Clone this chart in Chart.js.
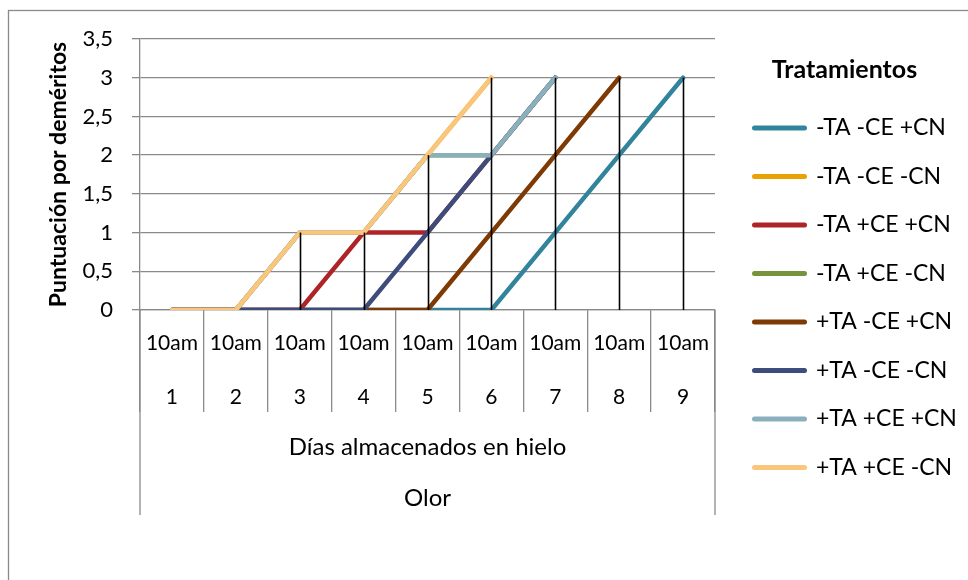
<!DOCTYPE html>
<html>
<head>
<meta charset="utf-8">
<script src="https://cdn.jsdelivr.net/npm/chart.js@4.4.1/dist/chart.umd.min.js"></script>
<style>
  html, body { margin: 0; padding: 0; background: #fff; }
  canvas { display: block; }
</style>
</head>
<body>
<canvas id="chart" width="968" height="580"></canvas>
<script>
// Category levels of the horizontal axis
const days = ['1', '2', '3', '4', '5', '6', '7', '8', '9'];
const times = ['10am', '10am', '10am', '10am', '10am', '10am', '10am', '10am', '10am'];
const axisTitleLines = ['Días almacenados en hielo', 'Olor'];

// Treatment names (legend order)
const treatments = ['-TA -CE +CN', '-TA -CE -CN', '-TA +CE +CN', '-TA +CE -CN',
                    '+TA -CE +CN', '+TA -CE -CN', '+TA +CE +CN', '+TA +CE -CN'];

// Demerit scores per day for each treatment (null once the lot is rejected)
const taCeCnA = [0, 0, 0, 0, 0, 0, 1, 2, 3];          // -TA -CE +CN
const taCeCnB = [0, 0, 1, 1, 2, 3, null, null, null]; // -TA -CE -CN
const taCeCnC = [0, 0, 0, 1, 1, 2, 3, null, null];    // -TA +CE +CN
const taCeCnD = [0, 0, 1, 1, 2, 2, 3, null, null];    // -TA +CE -CN
const taCeCnE = [0, 0, 0, 0, 0, 1, 2, 3, null];       // +TA -CE +CN
const taCeCnF = [0, 0, 0, 0, 1, 2, 3, null, null];    // +TA -CE -CN
const taCeCnG = [0, 0, 1, 1, 2, 2, 3, null, null];    // +TA +CE +CN
const taCeCnH = [0, 0, 1, 1, 2, 3, null, null, null]; // +TA +CE -CN
const seriesValues = [taCeCnA, taCeCnB, taCeCnC, taCeCnD, taCeCnE, taCeCnF, taCeCnG, taCeCnH];

// Value axis ticks
const yTicks = [0, 0.5, 1, 1.5, 2, 2.5, 3, 3.5];

const palette = ['#31849B', '#E8A202', '#AE2426', '#77933C',
                 '#7F3A04', '#3E4C7C', '#8AAFBD', '#FAC67E'];

const GRID = '#8a8a8a';
const FONT = 'Lato';

Chart.defaults.font.family = FONT;
Chart.defaults.color = '#000';

// Frame around the whole chart object, and a gap between plot and legend
const frame = {
  id: 'frame',
  beforeDraw(chart) {
    const ctx = chart.ctx;
    ctx.save();
    ctx.strokeStyle = GRID;
    ctx.lineWidth = 1.3;
    ctx.strokeRect(8.5, 10.5, 2000, 2000);
    ctx.restore();
  },
  afterLayout(chart) {
    const lg = chart.legend;
    if (lg) { lg.left += 14; lg.right += 14; }
  }
};

// Vertical drop lines from the highest value of each day down to zero
const dropLines = {
  id: 'dropLines',
  afterDatasetsDraw(chart) {
    const { ctx, scales: { x, y } } = chart;
    ctx.save();
    ctx.strokeStyle = '#000';
    ctx.lineWidth = 1.6;
    days.forEach((d, i) => {
      const vals = seriesValues.map(s => s[i]).filter(v => v !== null && v !== undefined);
      if (!vals.length) return;
      const top = Math.max(...vals);
      const px = Math.round(x.getPixelForValue(i)) + 0.5;
      ctx.beginPath();
      ctx.moveTo(px, y.getPixelForValue(top));
      ctx.lineTo(px, y.getPixelForValue(0));
      ctx.stroke();
    });
    ctx.restore();
  }
};

// Outer edges of the multi-level category axis run down past the title rows
const axisEdges = {
  id: 'axisEdges',
  afterDraw(chart) {
    const { ctx, scales: { x } } = chart;
    ctx.save();
    ctx.strokeStyle = GRID;
    ctx.lineWidth = 1.3;
    [x.left, x.right].forEach(px => {
      ctx.beginPath();
      ctx.moveTo(px, x.top);
      ctx.lineTo(px, x.top + 205);
      ctx.stroke();
    });
    ctx.restore();
  }
};

new Chart(document.getElementById('chart'), {
  type: 'line',
  data: {
    labels: days.map((d, i) => [times[i], d]),
    datasets: treatments.map((name, i) => ({
      label: name,
      data: seriesValues[i],
      order: treatments.length - i,   // later treatments are painted on top
      borderColor: palette[i],
      backgroundColor: palette[i],
      borderWidth: 4.5,
      borderCapStyle: 'round',
      borderJoinStyle: 'round',
      pointRadius: 0,
      pointHoverRadius: 0,
      tension: 0,
      spanGaps: false,
      fill: false
    }))
  },
  options: {
    responsive: false,
    animation: false,
    devicePixelRatio: 1,
    layout: { padding: { top: 39, left: 0, right: 22, bottom: 0 } },
    plugins: {
      tooltip: { enabled: false },
      legend: {
        position: 'right',
        align: 'start',
        maxWidth: 231,
        title: {
          display: true,
          text: 'Tratamientos',
          color: '#000',
          font: { family: FONT, size: 25, weight: 'bold' },
          padding: { top: 18.5, bottom: 3.5 }
        },
        labels: {
          usePointStyle: true,
          pointStyle: 'line',
          pointStyleWidth: 50,
          boxHeight: 23,
          padding: 25.5,
          color: '#000',
          font: { family: FONT, size: 23 },
          generateLabels(chart) {
            return chart.data.datasets.map((ds, i) => ({
              text: ds.label,
              fillStyle: ds.borderColor,
              strokeStyle: ds.borderColor,
              lineWidth: 5,
              lineCap: 'round',
              pointStyle: 'line',
              hidden: false,
              fontColor: '#000',
              datasetIndex: i
            }));
          }
        }
      }
    },
    scales: {
      x: {
        type: 'category',
        offset: true,
        afterFit(scale) { scale.height = 270; },
        grid: {
          offset: true,
          drawOnChartArea: false,
          drawTicks: true,
          tickLength: 102,
          color: GRID,
          tickColor: GRID,
          lineWidth: 1.3
        },
        border: { display: true, color: GRID, width: 1.3 },
        ticks: {
          autoSkip: false,
          maxRotation: 0,
          minRotation: 0,
          padding: -96,
          color: '#000',
          font: { family: FONT, size: 21, lineHeight: 54 / 21 }
        },
        title: {
          display: true,
          text: axisTitleLines,
          color: '#000',
          font: { family: FONT, size: 24, lineHeight: 51 / 24 },
          padding: { top: 0, bottom: 56.5 }
        }
      },
      y: {
        min: 0,
        max: 3.5,
        afterFit(scale) { scale.width = 140; },
        afterBuildTicks(scale) { scale.ticks = yTicks.map(v => ({ value: v })); },
        grid: {
          color: GRID,
          tickColor: GRID,
          lineWidth: 1.3,
          tickLength: 8
        },
        border: { display: true, color: GRID, width: 1.3 },
        ticks: {
          padding: 19,
          color: '#000',
          font: { family: FONT, size: 22 },
          callback: v => String(v).replace('.', ',')
        },
        title: {
          display: true,
          text: 'Puntuación por deméritos',
          color: '#000',
          font: { family: FONT, size: 23, weight: 'bold' },
          padding: { top: 44.7, bottom: 0 }
        }
      }
    }
  },
  plugins: [frame, dropLines, axisEdges]
});
</script>
</body>
</html>
